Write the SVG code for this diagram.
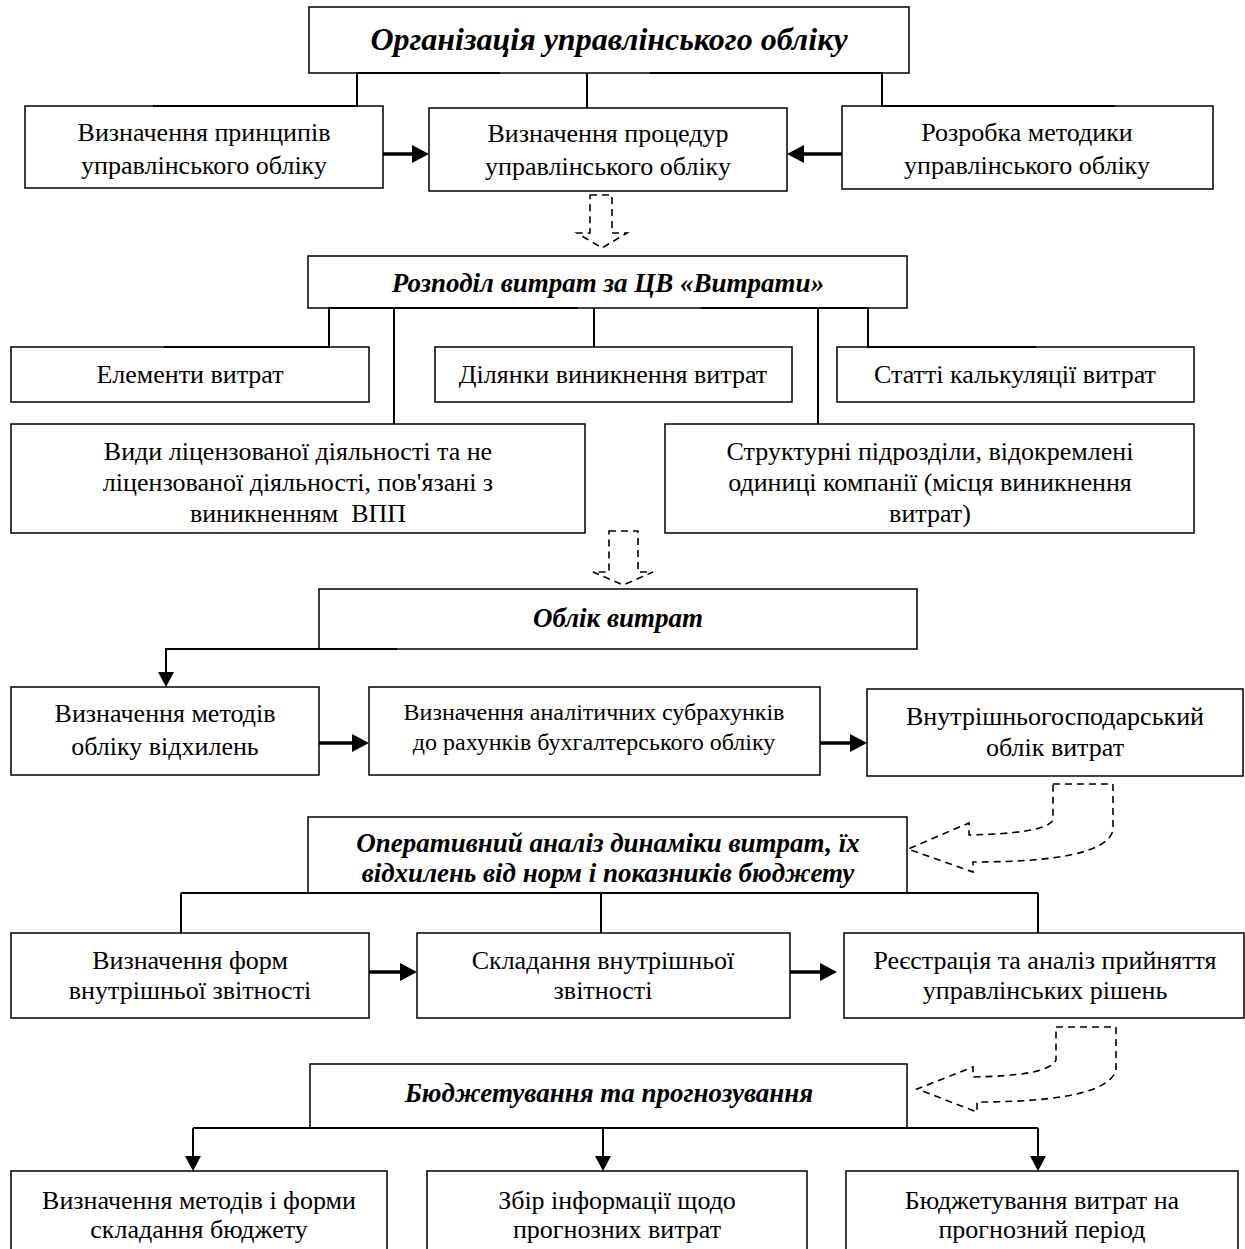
<svg xmlns="http://www.w3.org/2000/svg" width="1245" height="1249" viewBox="0 0 1245 1249">
<style>
.bx{fill:#fff;stroke:#000;stroke-width:1.5}
.t{font-family:"Liberation Serif","Times New Roman",serif;font-size:26px;fill:#000;text-anchor:middle}
.ts{font-size:24px}
.h{font-weight:bold;font-style:italic;font-size:27px}
.h1{font-size:32px}
.cn{fill:none;stroke:#000;stroke-width:2}
.ar{fill:none;stroke:#000;stroke-width:3.5}
.ds{fill:none;stroke:#000;stroke-width:1.6;stroke-dasharray:7 5}
</style>
<defs>
<marker id="ahb" markerUnits="userSpaceOnUse" markerWidth="17" markerHeight="18" viewBox="0 0 17 18" refX="1" refY="9" orient="auto"><path d="M0,0 L17,9 L0,18 Z" fill="#000"/></marker>
<marker id="ahs" markerUnits="userSpaceOnUse" markerWidth="15" markerHeight="16" viewBox="0 0 15 16" refX="1" refY="8" orient="auto"><path d="M0,0 L15,8 L0,16 Z" fill="#000"/></marker>
<clipPath id="clipOp"><rect x="308" y="817" width="599" height="76"/></clipPath>
</defs>

<g id="n-org"><rect class="bx" x="309" y="7" width="600" height="66"/><text class="t h h1" x="609" y="50">Організація управлінського обліку</text></g>
<g id="n-princ"><rect class="bx" x="25" y="106" width="358" height="82"/><text class="t" x="204" y="141">Визначення принципів</text><text class="t" x="204" y="174">управлінського обліку</text></g>
<g id="n-proc"><rect class="bx" x="429" y="108" width="358" height="83"/><text class="t" x="608" y="142">Визначення процедур</text><text class="t" x="608" y="175">управлінського обліку</text></g>
<g id="n-method"><rect class="bx" x="842" y="106" width="371" height="83"/><text class="t" x="1027" y="141">Розробка методики</text><text class="t" x="1027" y="174">управлінського обліку</text></g>

<g id="n-rozp"><rect class="bx" x="308" y="256" width="599" height="52"/><text class="t h" x="608" y="292">Розподіл витрат за ЦВ «Витрати»</text></g>
<g id="n-elem"><rect class="bx" x="11" y="347" width="358" height="55"/><text class="t" x="190" y="383">Елементи витрат</text></g>
<g id="n-dil"><rect class="bx" x="435" y="347" width="357" height="55"/><text class="t" x="613" y="383">Ділянки виникнення витрат</text></g>
<g id="n-stat"><rect class="bx" x="837" y="347" width="357" height="55"/><text class="t" x="1015" y="383">Статті калькуляції витрат</text></g>
<g id="n-vydy"><rect class="bx" x="11" y="424" width="574" height="109"/><text class="t" x="298" y="460">Види ліцензованої діяльності та не</text><text class="t" x="298" y="491">ліцензованої діяльності, пов'язані з</text><text class="t" x="298" y="522" xml:space="preserve">виникненням  ВПП</text></g>
<g id="n-strukt"><rect class="bx" x="665" y="424" width="529" height="109"/><text class="t" x="930" y="460">Структурні підрозділи, відокремлені</text><text class="t" x="930" y="491">одиниці компанії (місця виникнення</text><text class="t" x="930" y="522">витрат)</text></g>

<g id="n-oblik"><rect class="bx" x="319" y="589" width="598" height="60"/><text class="t h" x="618" y="627">Облік витрат</text></g>
<g id="n-vidh"><rect class="bx" x="11" y="687" width="308" height="88"/><text class="t" x="165" y="722">Визначення методів</text><text class="t" x="165" y="755">обліку відхилень</text></g>
<g id="n-sub"><rect class="bx" x="369" y="687" width="451" height="88"/><text class="t ts" x="594" y="720">Визначення аналітичних субрахунків</text><text class="t ts" x="594" y="750">до рахунків бухгалтерського обліку</text></g>
<g id="n-vnutr"><rect class="bx" x="867" y="689" width="376" height="87"/><text class="t" x="1055" y="725">Внутрішньогосподарський</text><text class="t" x="1055" y="756">облік витрат</text></g>

<g id="n-oper"><rect class="bx" x="308" y="817" width="599" height="76"/><g clip-path="url(#clipOp)"><text class="t h" x="608" y="852">Оперативний аналіз динаміки витрат, їх</text><text class="t h" x="608" y="882">відхилень від норм і показників бюджету</text></g></g>
<g id="n-form"><rect class="bx" x="11" y="933" width="358" height="85"/><text class="t" x="190" y="969">Визначення форм</text><text class="t" x="190" y="999">внутрішньої звітності</text></g>
<g id="n-sklad"><rect class="bx" x="417" y="933" width="373" height="85"/><text class="t" x="603" y="969">Складання внутрішньої</text><text class="t" x="603" y="999">звітності</text></g>
<g id="n-reestr"><rect class="bx" x="844" y="933" width="400" height="85"/><text class="t" x="1045" y="969">Реєстрація та аналіз прийняття</text><text class="t" x="1045" y="999">управлінських рішень</text></g>

<g id="n-budg"><rect class="bx" x="310" y="1064" width="597" height="64"/><text class="t h" x="609" y="1102">Бюджетування та прогнозування</text></g>
<g id="n-bmeth"><rect class="bx" x="11" y="1171" width="376" height="90"/><text class="t" x="199" y="1209">Визначення методів і форми</text><text class="t" x="199" y="1238">складання бюджету</text></g>
<g id="n-zbir"><rect class="bx" x="427" y="1171" width="380" height="90"/><text class="t" x="617" y="1209">Збір інформації щодо</text><text class="t" x="617" y="1238">прогнозних витрат</text></g>
<g id="n-bperiod"><rect class="bx" x="846" y="1171" width="392" height="90"/><text class="t" x="1042" y="1209">Бюджетування витрат на</text><text class="t" x="1042" y="1238">прогнозний період</text></g>

<g id="connectors">
<path class="cn" d="M500,73 H357 V106 H153"/>
<path class="cn" d="M587,73 V108"/>
<path class="cn" d="M650,73 H882 V106 H1115"/>
<path class="ar" d="M383,154 H413" marker-end="url(#ahb)"/>
<path class="ar" d="M842,154 H803" marker-end="url(#ahb)"/>
<path class="ds" d="M590,195 H612 V233 H627 L602,248 L577,233 H590 Z"/>

<path class="cn" d="M578,308 H329 V347 H164"/>
<path class="cn" d="M394,308 V424"/>
<path class="cn" d="M594,308 V347"/>
<path class="cn" d="M818,308 V424"/>
<path class="cn" d="M701,308 H868 V347 H1036"/>
<path class="ds" d="M609,531 H638 V572 H653 L623,585 L593,572 H609 Z"/>

<path class="cn" d="M397,649 H166 V673" marker-end="url(#ahs)"/>
<path class="ar" d="M319,743 H353" marker-end="url(#ahb)"/>
<path class="ar" d="M820,743 H851" marker-end="url(#ahb)"/>
<path class="ds" d="M1053,784 H1113 V830 C1108,852 1060,862 973,862 V872 L908,849 L969,823 V835 C1015,834 1048,830 1053,820 Z"/>

<path class="cn" d="M181,893 H1038"/>
<path class="cn" d="M181,893 V933"/>
<path class="cn" d="M601,893 V933"/>
<path class="cn" d="M1038,893 V933"/>
<path class="ar" d="M369,972 H401" marker-end="url(#ahb)"/>
<path class="ar" d="M790,972 H821" marker-end="url(#ahb)"/>
<path class="ds" d="M1056,1027 H1116 V1070 C1110,1092 1060,1102 977,1102 V1112 L917,1089 L973,1067 V1077 C1020,1076 1050,1072 1056,1060 Z"/>

<path class="cn" d="M193,1128 H1038"/>
<path class="cn" d="M193,1128 V1157" marker-end="url(#ahs)"/>
<path class="cn" d="M603,1128 V1157" marker-end="url(#ahs)"/>
<path class="cn" d="M1038,1128 V1157" marker-end="url(#ahs)"/>
</g>
</svg>
